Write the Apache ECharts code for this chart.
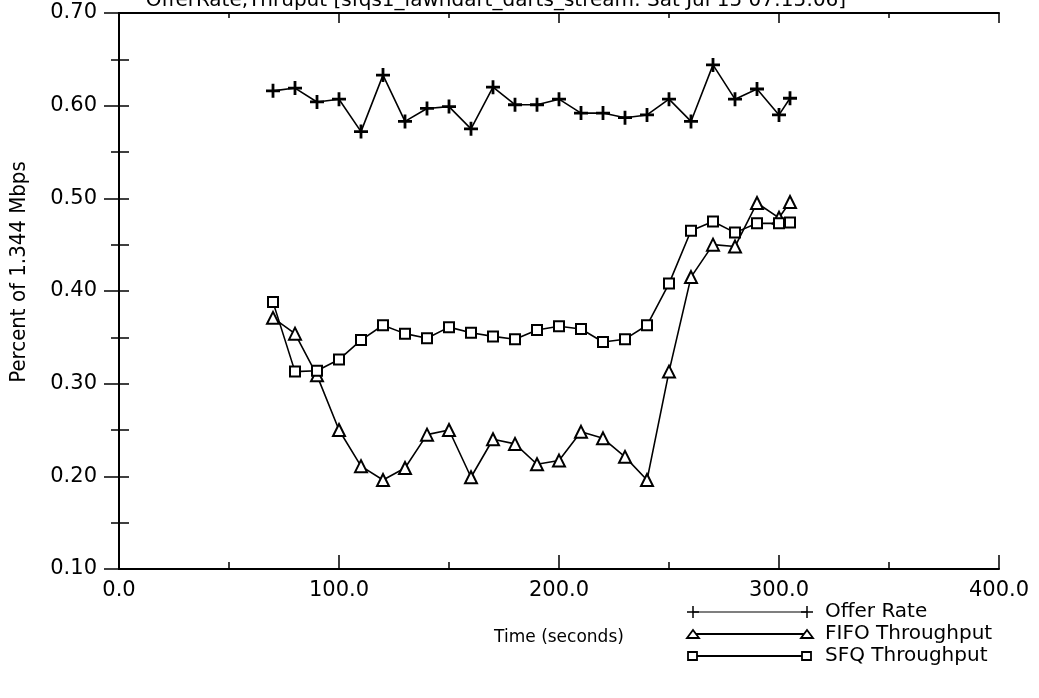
<!DOCTYPE html>
<html>
<head>
<meta charset="utf-8">
<script src="https://cdn.jsdelivr.net/npm/echarts@6/dist/echarts.min.js"></script>
<style>
html,body{margin:0;padding:0;background:#fff;}
#c{width:1039px;height:698px;}
</style>
</head>
<body>
<div id="c"></div>
<script>
var titleText = 'OfferRate,Thruput [sfqs1_lawndart_darts_stream: Sat Jul 15 07:15:06]';
var xName = 'Time (seconds)';
var yName = 'Percent of 1.344 Mbps';
var seriesNames = ['Offer Rate', 'FIFO Throughput', 'SFQ Throughput'];
var times = [70, 80, 90, 100, 110, 120, 130, 140, 150, 160, 170, 180, 190, 200, 210, 220, 230, 240, 250, 260, 270, 280, 290, 300, 305];
var offerRate = [0.616, 0.619, 0.604, 0.607, 0.572, 0.633, 0.583, 0.597, 0.599, 0.575, 0.620, 0.601, 0.601, 0.607, 0.592, 0.592, 0.587, 0.590, 0.607, 0.583, 0.644, 0.607, 0.618, 0.590, 0.608];
var fifo = [0.371, 0.354, 0.309, 0.250, 0.211, 0.196, 0.209, 0.245, 0.250, 0.199, 0.240, 0.235, 0.213, 0.217, 0.248, 0.241, 0.221, 0.196, 0.313, 0.415, 0.450, 0.448, 0.495, 0.479, 0.496];
var sfq = [0.388, 0.313, 0.314, 0.326, 0.347, 0.363, 0.354, 0.349, 0.361, 0.355, 0.351, 0.348, 0.358, 0.362, 0.359, 0.345, 0.348, 0.363, 0.408, 0.465, 0.475, 0.463, 0.473, 0.473, 0.474];

function pairs(xs, ys){ return xs.map(function(x,i){ return [x, ys[i]]; }); }

var crossPath = 'path://M4,0h2v4h4v2h-4v4h-2v-4h-4v-2h4z';
var font = '"DejaVu Sans", sans-serif';
var narrow = '"DejaVu Sans Condensed", "Liberation Sans Narrow", sans-serif';
var chart = echarts.init(document.getElementById('c'), null, {renderer:'canvas'});

function cross(cx, cy){
  return [
    {type:'line', shape:{x1:cx-6,y1:cy,x2:cx+6,y2:cy}, style:{stroke:'#000', lineWidth:1.5}},
    {type:'line', shape:{x1:cx,y1:cy-6,x2:cx,y2:cy+6}, style:{stroke:'#000', lineWidth:1.5}}
  ];
}

var legendFont = '20px ' + font;
var legendGraphics = [].concat(
  [{type:'line', shape:{x1:693,y1:612,x2:807,y2:612}, style:{stroke:'#000', lineWidth:1.2}}],
  cross(693, 612), cross(807, 612),
  [
    {type:'text', x:825, y:612, style:{text:seriesNames[0], fill:'#000', font:legendFont, textVerticalAlign:'middle'}},
    {type:'line', shape:{x1:693,y1:634,x2:807,y2:634}, style:{stroke:'#000', lineWidth:2}},
    {type:'polygon', shape:{points:[[687,638],[699,638],[693,630]]}, style:{stroke:'#000', lineWidth:1.8, fill:'#fff'}},
    {type:'polygon', shape:{points:[[801,638],[813,638],[807,630]]}, style:{stroke:'#000', lineWidth:1.8, fill:'#fff'}},
    {type:'text', x:825, y:634, style:{text:seriesNames[1], fill:'#000', font:legendFont, textVerticalAlign:'middle'}},
    {type:'line', shape:{x1:693,y1:656,x2:807,y2:656}, style:{stroke:'#000', lineWidth:2}},
    {type:'rect', shape:{x:688,y:652,width:9,height:8}, style:{stroke:'#000', lineWidth:1.8, fill:'#fff'}},
    {type:'rect', shape:{x:802,y:652,width:9,height:8}, style:{stroke:'#000', lineWidth:1.8, fill:'#fff'}},
    {type:'text', x:825, y:656, style:{text:seriesNames[2], fill:'#000', font:legendFont, textVerticalAlign:'middle'}}
  ]
);

var option = {
  backgroundColor:'#fff',
  animation:false,
  grid:{left:119, right:40, top:13, bottom:129, containLabel:false, outerBoundsMode:'none'},
  xAxis:[{
    type:'value', min:0, max:400, interval:100, position:'bottom',
    axisLine:{show:true, lineStyle:{color:'#000', width:2}},
    axisTick:{show:true, inside:true, length:14, lineStyle:{color:'#000', width:1.5}},
    minorTick:{show:true, splitNumber:2, length:7, lineStyle:{color:'#000', width:1.5}},
    splitLine:{show:false},
    axisLabel:{color:'#000', fontSize:21, fontFamily:font, margin:11, formatter:function(v){return v.toFixed(1);}},
    name:xName, nameLocation:'middle', nameGap:60,
    nameTextStyle:{color:'#000', fontSize:17, fontFamily:font}
  },{
    type:'value', min:0, max:400, interval:100, position:'top',
    axisLine:{show:true, lineStyle:{color:'#000', width:2}},
    axisTick:{show:true, inside:true, length:10, lineStyle:{color:'#000', width:1.5}},
    minorTick:{show:true, splitNumber:2, length:5, lineStyle:{color:'#000', width:1.5}},
    splitLine:{show:false},
    axisLabel:{show:false}
  }],
  yAxis:[{
    type:'value', min:0.1, max:0.7, interval:0.05, position:'left',
    axisLine:{show:true, lineStyle:{color:'#000', width:2}},
    axisTick:{show:true, inside:true, length:10, lineStyle:{color:'#000', width:1.5}},
    splitLine:{show:false},
    axisLabel:{color:'#000', fontSize:21, fontFamily:font, margin:22, showMinLabel:true, showMaxLabel:true,
      formatter:function(v){ var k = Math.round(v*100); return (k % 10 === 0) ? (k/100).toFixed(2) : ''; }}
  },{
    type:'value', min:0.1, max:0.7, interval:0.1, position:'right',
    axisLine:{show:true, lineStyle:{color:'#000', width:2}},
    axisTick:{show:true, inside:true, length:15, lineStyle:{color:'#000', width:1.5}},
    minorTick:{show:true, splitNumber:2, length:8, lineStyle:{color:'#000', width:1.5}},
    splitLine:{show:false}, axisLabel:{show:false}
  }],
  series:[{
    name:seriesNames[0], type:'line', data:pairs(times, offerRate),
    symbol:crossPath, symbolSize:14, showAllSymbol:true,
    lineStyle:{color:'#000', width:1.6}, itemStyle:{color:'#000'}
  },{
    name:seriesNames[1], type:'line', data:pairs(times, fifo),
    symbol:'triangle', symbolSize:12, showAllSymbol:true,
    lineStyle:{color:'#000', width:1.6}, itemStyle:{color:'#fff', borderColor:'#000', borderWidth:2}
  },{
    name:seriesNames[2], type:'line', data:pairs(times, sfq),
    symbol:'rect', symbolSize:10, showAllSymbol:true,
    lineStyle:{color:'#000', width:1.6}, itemStyle:{color:'#fff', borderColor:'#000', borderWidth:2}
  }],
  graphic:[
    {type:'text', x:496, y:11, style:{text:titleText, fill:'#000', font:'20px ' + font, textAlign:'center', textVerticalAlign:'bottom'}},
    {type:'text', x:19, y:272, rotation:Math.PI/2, style:{text:yName, fill:'#000', font:'22px ' + narrow, textAlign:'center', textVerticalAlign:'middle'}}
  ].concat(legendGraphics)
};
chart.setOption(option);
</script>
</body>
</html>
